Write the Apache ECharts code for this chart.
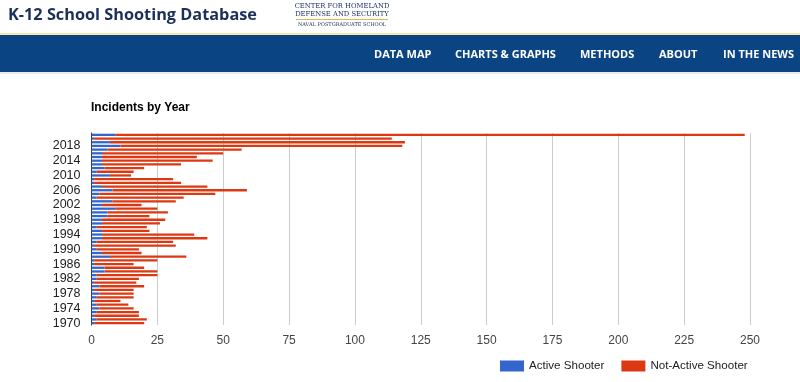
<!DOCTYPE html>
<html>
<head>
<meta charset="utf-8">
<script src="https://cdn.jsdelivr.net/npm/echarts@6/dist/echarts.min.js"></script>
<style>
html,body{margin:0;padding:0;background:#fff;}
#chart{width:800px;height:382px;}
</style>
</head>
<body>
<div id="chart"></div>
<script>
// Years 1970..2021 (bottom to top)
const years = [];
for (let y = 1970; y <= 2021; y++) years.push(String(y));

// Active shooter incidents, 1970..2021
const activeShooter = [1,2,1,2,3,2,1,2,3,1,3,1,2,2,5,5,1,1,7,4,2,1,2,4,4,4,2,4,4,6,6,9,4,8,2,3,8,4,1,1,7,2,5,4,4,4,4,6,11,7,1,9];
// Not-active shooter incidents, 1970..2021
const notActiveShooter = [19,19,17,16,13,12,10,14,13,15,17,16,16,23,20,15,15,24,29,15,16,31,29,40,35,18,19,22,24,16,23,16,15,24,33,44,51,40,33,30,8,14,15,30,42,36,46,51,107,112,113,239];

const xTicks = [0,25,50,75,100,125,150,175,200,225,250];
const seriesNames = ['Active Shooter', 'Not-Active Shooter'];
const navItems = ['DATA MAP', 'CHARTS & GRAPHS', 'METHODS', 'ABOUT', 'IN THE NEWS'];
const navX = [374, 455, 580, 659, 723];

const chart = echarts.init(document.getElementById('chart'), null, {renderer: 'canvas'});

const graphics = [
  {type: 'rect', shape: {x: 0, y: 33, width: 800, height: 2}, style: {fill: '#f3e9ad'}, silent: true},
  {type: 'rect', shape: {x: 0, y: 35, width: 800, height: 38}, style: {fill: '#0b4482'}, silent: true},
  {type: 'rect', shape: {x: 0, y: 72, width: 800, height: 2}, style: {fill: '#e6ecf2'}, silent: true},
  {type: 'text', x: 8, y: 15, style: {text: 'K-12 School Shooting Database', font: 'bold 16.3px "Open Sans"', fill: '#1c2f5a', textVerticalAlign: 'middle'}},
  {type: 'text', x: 342, y: 6, style: {text: 'CENTER FOR HOMELAND', font: '6.8px "DejaVu Serif"', fill: '#1f3566', textAlign: 'center', textVerticalAlign: 'middle'}},
  {type: 'text', x: 342, y: 14, style: {text: 'DEFENSE AND SECURITY', font: '6.8px "DejaVu Serif"', fill: '#1f3566', textAlign: 'center', textVerticalAlign: 'middle'}},
  {type: 'rect', shape: {x: 296, y: 19, width: 92, height: 1}, style: {fill: '#d8b84a'}, silent: true},
  {type: 'text', x: 342, y: 24.5, style: {text: 'NAVAL POSTGRADUATE SCHOOL', font: '5px "DejaVu Serif"', fill: '#1f3566', textAlign: 'center', textVerticalAlign: 'middle'}},
  {type: 'text', x: 91, y: 108, style: {text: 'Incidents by Year', font: 'bold 12px Arial', fill: '#000', textVerticalAlign: 'middle'}}
];
navItems.forEach((t, i) => {
  graphics.push({type: 'text', x: navX[i], y: 55, style: {text: t, font: 'bold 11px "Open Sans"', fill: '#ffffff', textVerticalAlign: 'middle'}});
});

chart.setOption({
  animation: false,
  textStyle: {fontFamily: 'Arial'},
  graphic: graphics,
  legend: {
    data: seriesNames,
    left: 495, top: 355,
    itemWidth: 24, itemHeight: 11, itemGap: 17,
    icon: 'rect',
    textStyle: {fontSize: 11.6, color: '#222', fontFamily: 'Arial'}
  },
  grid: {left: 91.5, right: 50, top: 133, bottom: 57, containLabel: false},
  xAxis: {
    type: 'value', min: 0, max: 250, interval: 25,
    axisLine: {show: false}, axisTick: {show: false},
    splitLine: {lineStyle: {color: '#cccccc'}},
    axisLabel: {color: '#444', fontSize: 12, margin: 10,
      formatter: v => xTicks.includes(v) ? String(v) : ''}
  },
  yAxis: {
    type: 'category', data: years,
    axisLine: {show: true, lineStyle: {color: '#333', width: 1}},
    axisTick: {show: false},
    axisLabel: {color: '#222', fontSize: 12.5, margin: 11,
      interval: (idx) => idx % 4 === 0}
  },
  series: [
    {name: seriesNames[0], type: 'bar', stack: 'total', data: activeShooter,
      barCategoryGap: '38%', itemStyle: {color: '#3366cc'}},
    {name: seriesNames[1], type: 'bar', stack: 'total', data: notActiveShooter,
      barCategoryGap: '38%', itemStyle: {color: '#dc3912'}}
  ]
});
</script>
</body>
</html>
